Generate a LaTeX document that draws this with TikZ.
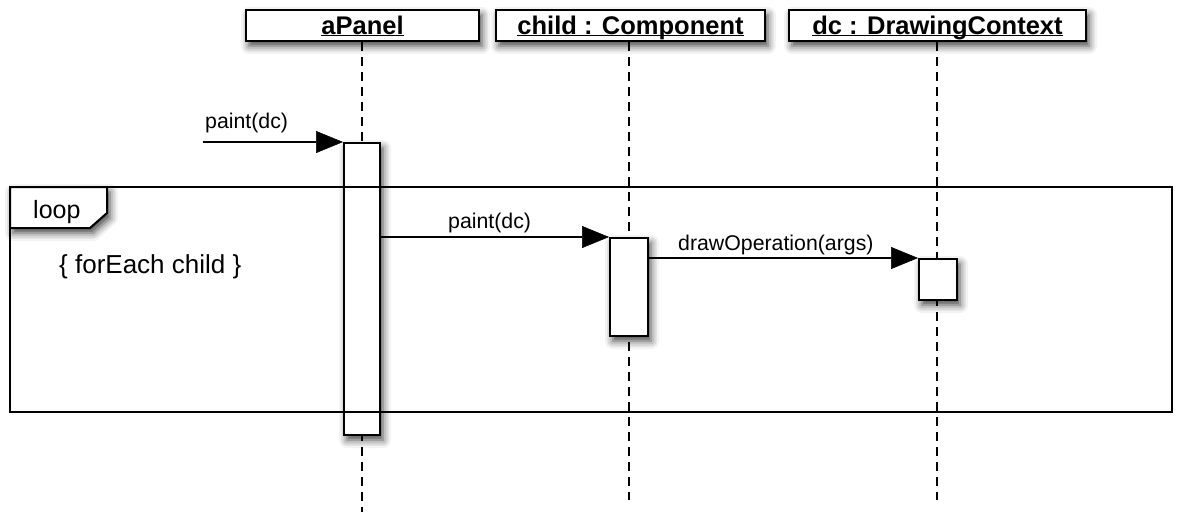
\documentclass[tikz,border=0pt]{standalone}
\usepackage{fontspec}
\setmainfont{Liberation Sans}
\usetikzlibrary{arrows.meta,shadows.blur,calc}
\newcommand\hdrul[1]{\underline{\raisebox{0pt}[\height][0pt]{#1}}}
\tikzset{
  shad/.style={blur shadow={shadow xshift=3pt,shadow yshift=-5pt,shadow blur radius=8pt,shadow opacity=75}},
  hdr/.style={draw,line width=2pt,fill=white,shad,inner sep=0pt,anchor=north west,
     text height=20pt,text depth=3pt,
     font=\fontsize{25.5}{28}\selectfont\bfseries},
  actbox/.style={draw,line width=2pt,fill=white,shad,inner sep=0pt,anchor=north west},
  lifeline/.style={line width=2pt,dash pattern=on 9pt off 6pt},
  msg/.style={line width=2pt,-{Triangle[length=27pt,width=22pt,fill=black,line width=0.5pt]}},
  lbl/.style={anchor=base west,inner sep=0pt,font=\fontsize{21.3}{24}\selectfont},
  frame/.style={line width=2pt},
}
\begin{document}
\begin{tikzpicture}[x=1pt,y=-1pt]
\useasboundingbox (0,0) rectangle (1180,512);
% headers
\node[hdr,minimum width=233pt,minimum height=31pt] (hA) at (245,9) {\hdrul{aPanel}};
\node[hdr,minimum width=269pt,minimum height=31pt] (hC) at (495,9) {\hdrul{child : Component}};
\node[hdr,minimum width=297pt,minimum height=31pt] (hD) at (788,9) {\hdrul{dc : DrawingContext}};
% lifeline ends
\coordinate (eA) at (362,512);
\coordinate (eC) at (629,500);
\coordinate (eD) at (937,500);
\draw[lifeline] (hA.south -| eA) -- (eA);
\draw[lifeline] (hC.south -| eC) -- (eC);
\draw[lifeline] (hD.south -| eD) -- (eD);
% activations
\node[actbox,minimum width=36pt,minimum height=292pt] (aA) at (343,142) {};
\node[actbox,minimum width=38pt,minimum height=98pt] (aC) at (609,237) {};
\node[actbox,minimum width=38pt,minimum height=41pt] (aD) at (918,258) {};
% loop frame
\coordinate (fTL) at (10,187);
\coordinate (fBR) at (1172,412);
\draw[frame] (fTL) rectangle (fBR);
\draw[frame,fill=white,shad] (fTL) -- (107,187) -- (107,213) -- (90,228) -- (10,228) -- cycle;
\node[anchor=base west,inner sep=0pt,font=\fontsize{25}{28}\selectfont] (loopl) at (33,218) {loop};
\node[anchor=base west,inner sep=0pt,font=\fontsize{26}{29}\selectfont] (guard) at (59,273) {\{ forEach child \}};
% messages
\coordinate (m1s) at (203,142);
\draw[msg] (m1s) -- (aA.north west);
\node[lbl] (l1) at (205,128) {paint(dc)};
\draw[msg] (aC.north west -| aA.east) -- (aC.north west);
\node[lbl] (l2) at (448,228) {paint(dc)};
\draw[msg] (aD.north west -| aC.east) -- (aD.north west);
\node[lbl] (l3) at (678,250) {drawOperation(args)};
\end{tikzpicture}
\end{document}
